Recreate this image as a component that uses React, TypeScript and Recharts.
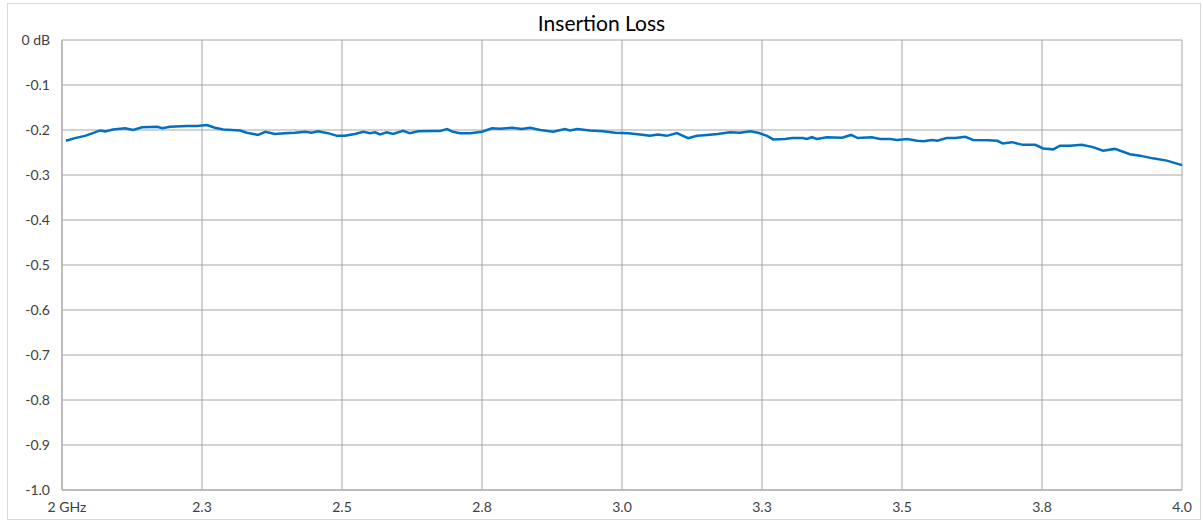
import React from "react";
import {
  LineChart,
  Line,
  XAxis,
  YAxis,
  CartesianGrid,
} from "recharts";

// frequency (GHz) and insertion loss (dB)
const freqGHz = [
  2.007, 2.023, 2.041, 2.055, 2.068, 2.077, 2.091, 2.113, 2.127, 2.143,
  2.17, 2.179, 2.193, 2.223, 2.241, 2.259, 2.273, 2.288, 2.318, 2.33,
  2.35, 2.363, 2.38, 2.398, 2.416, 2.434, 2.446, 2.457, 2.475, 2.491,
  2.505, 2.523, 2.538, 2.55, 2.559, 2.568, 2.58, 2.591, 2.609, 2.621,
  2.636, 2.661, 2.675, 2.688, 2.698, 2.711, 2.729, 2.75, 2.768, 2.782,
  2.804, 2.821, 2.836, 2.854, 2.877, 2.898, 2.907, 2.92, 2.943, 2.966,
  2.988, 3.011, 3.032, 3.05, 3.064, 3.08, 3.098, 3.118, 3.134, 3.152,
  3.171, 3.193, 3.211, 3.229, 3.243, 3.259, 3.27, 3.291, 3.304, 3.323,
  3.33, 3.339, 3.348, 3.366, 3.393, 3.409, 3.421, 3.446, 3.461, 3.479,
  3.491, 3.509, 3.527, 3.538, 3.554, 3.563, 3.58, 3.595, 3.613, 3.627,
  3.654, 3.67, 3.68, 3.696, 3.716, 3.738, 3.752, 3.77, 3.782, 3.8,
  3.821, 3.841, 3.859, 3.88, 3.907, 3.925, 3.948, 3.973, 4.0,
];

const lossDb = [
  -0.224, -0.218, -0.213, -0.207, -0.201, -0.203, -0.199, -0.196, -0.2, -0.194,
  -0.193, -0.196, -0.193, -0.191, -0.191, -0.189, -0.195, -0.199, -0.201, -0.206,
  -0.211, -0.204, -0.209, -0.207, -0.206, -0.204, -0.206, -0.203, -0.207, -0.213,
  -0.213, -0.209, -0.204, -0.207, -0.205, -0.21, -0.205, -0.209, -0.202, -0.207,
  -0.203, -0.202, -0.202, -0.198, -0.204, -0.207, -0.207, -0.204, -0.196, -0.197,
  -0.195, -0.198, -0.195, -0.2, -0.204, -0.198, -0.201, -0.198, -0.201, -0.203,
  -0.206, -0.207, -0.21, -0.213, -0.21, -0.213, -0.207, -0.218, -0.213, -0.211,
  -0.209, -0.205, -0.206, -0.203, -0.206, -0.213, -0.221, -0.22, -0.218, -0.218,
  -0.22, -0.216, -0.22, -0.216, -0.217, -0.211, -0.218, -0.216, -0.22, -0.22,
  -0.222, -0.22, -0.224, -0.225, -0.222, -0.224, -0.218, -0.218, -0.215, -0.222,
  -0.223, -0.224, -0.23, -0.227, -0.233, -0.233, -0.241, -0.243, -0.235, -0.235,
  -0.233, -0.238, -0.246, -0.242, -0.254, -0.257, -0.263, -0.268, -0.278,
];

const xTicks = [2, 2.25, 2.5, 2.75, 3, 3.25, 3.5, 3.75, 4];
const xTickLabels = ["2 GHz", "2.3", "2.5", "2.8", "3.0", "3.3", "3.5", "3.8", "4.0"];
const yTicks = [0, -0.1, -0.2, -0.3, -0.4, -0.5, -0.6, -0.7, -0.8, -0.9, -1];
const yTickLabels = ["0 dB", "-0.1", "-0.2", "-0.3", "-0.4", "-0.5", "-0.6", "-0.7", "-0.8", "-0.9", "-1.0"];

const FONT = "Lato, 'Open Sans', sans-serif";
const GRID = "#a6a6a6";

const chartData = freqGHz.map((f, i) => ({ f, loss: lossDb[i] }));

const XTick = (props: any) => {
  const { x, y, index } = props;
  return (
    <text
      x={x + (index === 0 ? 5 : 0)}
      y={y}
      dy="0.71em"
      textAnchor="middle"
      fill="#404040"
      fontSize={14}
      fontFamily={FONT}
    >
      {xTickLabels[index]}
    </text>
  );
};

const App: React.FC = () => {
  return (
    <div
      style={{
        position: "absolute",
        left: 0,
        top: 0,
        width: 1203,
        height: 521,
        background: "#fff",
      }}
    >
      <div
        style={{
          position: "absolute",
          left: 7,
          top: 3,
          width: 1192,
          height: 515,
          border: "1px solid #d9d9d9",
        }}
      />
      <div
        style={{
          position: "absolute",
          top: 10,
          left: 0,
          width: 1203,
          textAlign: "center",
          fontFamily: FONT,
          fontSize: 21,
          color: "#000",
        }}
      >
        Insertion Loss
      </div>
      <div style={{ position: "absolute", left: 0, top: 0 }}>
        <LineChart
          width={1203}
          height={521}
          data={chartData}
          margin={{ top: 40, right: 21, left: 8, bottom: 6 }}
        >
          <CartesianGrid stroke={GRID} strokeWidth={1} />
          <XAxis
            dataKey="f"
            type="number"
            domain={[2, 4]}
            ticks={xTicks}
            interval={0}
            height={25}
            axisLine={{ stroke: GRID }}
            tickLine={false}
            tickMargin={6}
            tick={<XTick />}
          />
          <YAxis
            type="number"
            domain={[-1, 0]}
            ticks={yTicks}
            interval={0}
            width={54}
            axisLine={{ stroke: GRID }}
            tickLine={false}
            tickMargin={6}
            tickFormatter={(v: number) => yTickLabels[yTicks.indexOf(v)] ?? String(v)}
            tick={{ fill: "#404040", fontSize: 14, fontFamily: FONT }}
          />
          <Line
            type="linear"
            dataKey="loss"
            stroke="#0070c0"
            strokeWidth={2.5}
            dot={false}
            isAnimationActive={false}
          />
        </LineChart>
      </div>
    </div>
  );
};

export default App;
